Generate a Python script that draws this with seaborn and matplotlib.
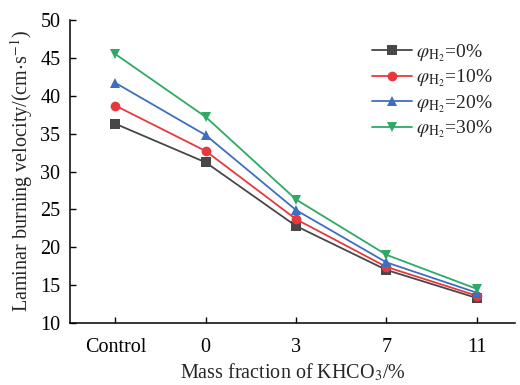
import numpy as np
import pandas as pd
import matplotlib
matplotlib.use('Agg')
import matplotlib.pyplot as plt
import seaborn as sns

categories = ['Control', '0', '3', '7', '11']
h2_0 = [36.3, 31.2, 22.8, 17.0, 13.3]
h2_10 = [38.7, 32.7, 23.7, 17.4, 13.6]
h2_20 = [41.7, 34.8, 24.9, 18.0, 14.0]
h2_30 = [45.5, 37.2, 26.3, 19.0, 14.5]
labels = [r'$\varphi_{\mathrm{H_2}}$=0%', r'$\varphi_{\mathrm{H_2}}$=10%',
          r'$\varphi_{\mathrm{H_2}}$=20%', r'$\varphi_{\mathrm{H_2}}$=30%']

sns.set_style('ticks')
plt.rcParams['font.family'] = ['Liberation Serif', 'DejaVu Serif']
plt.rcParams['mathtext.fontset'] = 'stix'

pos = np.arange(len(categories))
rows = []
for lab, vals in zip(labels, [h2_0, h2_10, h2_20, h2_30]):
    for p, v in zip(pos, vals):
        rows.append({'pos': p, 'v': v, 'series': lab})
df = pd.DataFrame(rows)

colors = ['#474747', '#e8383d', '#3d6fc0', '#2eaa66']
markers = ['s', 'o', '^', 'v']

fig = plt.figure(figsize=(5.2, 3.85), dpi=100)
ax = fig.add_axes([0.135, 0.161, 0.855, 0.787])
sns.lineplot(data=df, x='pos', y='v', hue='series', style='series',
             palette=colors, markers=markers, dashes=False, markersize=7,
             markeredgewidth=0, linewidth=1.3, ax=ax)

ax.set_xlim(-0.5, 4.42)
ax.set_ylim(10, 50)
ax.set_xticks(pos)
ax.set_xticklabels(categories)
ax.set_yticks(range(10, 51, 5))
ax.tick_params(direction='in', length=4, width=1, labelsize=14.5, colors='black')
ax.tick_params(axis='x', pad=11)
ax.tick_params(axis='y', pad=7)
sns.despine(ax=ax)
for s in ['left', 'bottom']:
    ax.spines[s].set_linewidth(1.1)
    ax.spines[s].set_color('black')
ax.set_xlabel(r'Mass fraction of KHCO$_3$/%', fontsize=14.5, labelpad=3)
ax.set_ylabel(r'Laminar burning velocity/(cm$\cdot$s$^{-1}$)', fontsize=14.5, labelpad=4)

leg = ax.legend(loc='upper right', bbox_to_anchor=(0.99, 0.985), frameon=False,
                fontsize=14, handlelength=2.1, labelspacing=0.2, handletextpad=0.2)

fig.savefig('out.png', dpi=100)
